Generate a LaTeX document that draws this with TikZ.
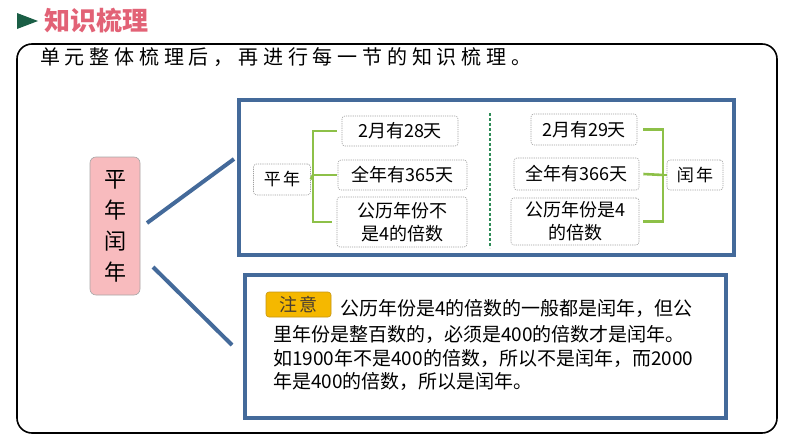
\documentclass[tikz,border=0pt]{standalone}
\usepackage{fontspec}
\setmainfont{Noto Sans CJK SC}
\definecolor{steel}{RGB}{68,106,154}
\definecolor{brgreen}{RGB}{141,192,72}
\definecolor{dkgreen}{RGB}{46,139,87}
\definecolor{titlered}{RGB}{226,98,118}
\definecolor{trigreen}{RGB}{26,94,69}
\definecolor{pinkfill}{RGB}{248,187,190}
\definecolor{tagfill}{RGB}{245,184,0}
\definecolor{tagdraw}{RGB}{196,148,20}
\tikzset{
  dbox/.style={draw=gray!75, dashed, dash pattern=on 1.2pt off 1pt, rounded corners=3pt, line width=0.6pt,
    inner sep=0pt, align=center, font=\fontsize{18}{23}\selectfont},
  bluebox/.style={draw=steel, line width=4pt, inner sep=0pt},
  brk/.style={draw=brgreen, line width=2.6pt},
  conn/.style={draw=steel, line width=4pt},
  bodytext/.style={anchor=west, inner sep=0pt, font=\fontsize{19}{23}\selectfont}
}
\begin{document}
\begin{tikzpicture}[x=1pt,y=-1pt]
\useasboundingbox (0,0) rectangle (794,447);
% title
\fill[trigreen] (17,13) -- (17,29) -- (38,21) -- cycle;
\node[anchor=west, inner sep=0pt, text=titlered, font=\fontsize{26}{30}\selectfont\bfseries] (title) at (44,21) {知识梳理};
% frame
\draw[line width=1.6pt, rounded corners=15pt] (17,44) rectangle (777,433);
\node[anchor=west, inner sep=0pt, font=\fontsize{20}{24}\selectfont\addfontfeature{LetterSpace=24}] (intro) at (40,57) {单元整体梳理后，再进行每一节的知识梳理。};
% pink box
\node[draw=gray!70, line width=0.6pt, fill=pinkfill, rounded corners=6pt, minimum width=50pt, minimum height=138pt,
  inner sep=0pt, align=center, font=\fontsize{22}{31}\selectfont] (pink) at (115,226) {平\\年\\闰\\年};
% blue boxes
\node[bluebox, minimum width=495pt, minimum height=155pt] (topbox) at (486.5,177.5) {};
\node[bluebox, minimum width=481pt, minimum height=143pt] (botbox) at (485.5,346.5) {};
\coordinate (c1s) at (147,223);
\coordinate (c1e) at (234,159);
\coordinate (c2s) at (153,267);
\coordinate (c2e) at (232,345);
\draw[conn] (c1s) -- (c1e);
\draw[conn] (c2s) -- (c2e);
% left group
\node[dbox, minimum width=57pt, minimum height=31pt, font=\fontsize{17}{20}\selectfont\addfontfeature{LetterSpace=12}] (pn) at (282,179.5) {平年};
\node[dbox, minimum width=116pt, minimum height=30pt] (a1) at (400,131) {2月有28天};
\node[dbox, minimum width=129pt, minimum height=30pt] (a2) at (402.5,175) {全年有365天};
\node[dbox, minimum width=130pt, minimum height=50pt] (a3) at (402,222) {公历年份不\\是4的倍数};
\coordinate (lsp) at (313,175);
\draw[brk] (pn.east) -- (lsp);
\draw[brk] ([xshift=-5pt]a1.west) -| (lsp |- a3.west) -- ([xshift=-5pt]a3.west);
\draw[brk] (lsp) -- ([xshift=-1pt]a2.west);
% divider
\coordinate (dv1) at (490,113);
\coordinate (dv2) at (490,248);
\draw[dkgreen, line width=1.5pt, dash pattern=on 3pt off 2pt] (dv1) -- (dv2);
% right group
\node[dbox, minimum width=106pt, minimum height=31pt] (b1) at (584,129.5) {2月有29天};
\node[dbox, minimum width=125pt, minimum height=32pt] (b2) at (576.5,174) {全年有366天};
\node[dbox, minimum width=128pt, minimum height=47pt] (b3) at (575,221.5) {公历年份是4\\的倍数};
\node[dbox, minimum width=56pt, minimum height=30pt, font=\fontsize{17}{20}\selectfont\addfontfeature{LetterSpace=12}] (rn) at (695,175) {闰年};
\coordinate (rsp) at (663,175);
\draw[brk] (rn.west) -- (rsp);
\draw[brk] ([xshift=6pt]b1.east) -| (rsp |- b3.east) -- ([xshift=4pt]b3.east);
\draw[brk] (rsp) -- ([xshift=4pt]b2.east);
% note
\node[draw=tagdraw, fill=tagfill, rounded corners=3pt, line width=0.6pt, minimum width=65pt, minimum height=25pt,
  inner sep=0pt, text={rgb,255:red,70;green,60;blue,50}, font=\fontsize{18}{20}\selectfont\addfontfeature{LetterSpace=15}] (tag) at (298.5,304.5) {注意};
\node[bodytext] (n1) at (340,308) {公历年份是4的倍数的一般都是闰年，但公};
\node[bodytext] (n2) at (273,334) {里年份是整百数的，必须是400的倍数才是闰年。};
\node[bodytext] (n3) at (273,358) {如1900年不是400的倍数，所以不是闰年，而2000};
\node[bodytext] (n4) at (273,381) {年是400的倍数，所以是闰年。};
\end{tikzpicture}
\end{document}
